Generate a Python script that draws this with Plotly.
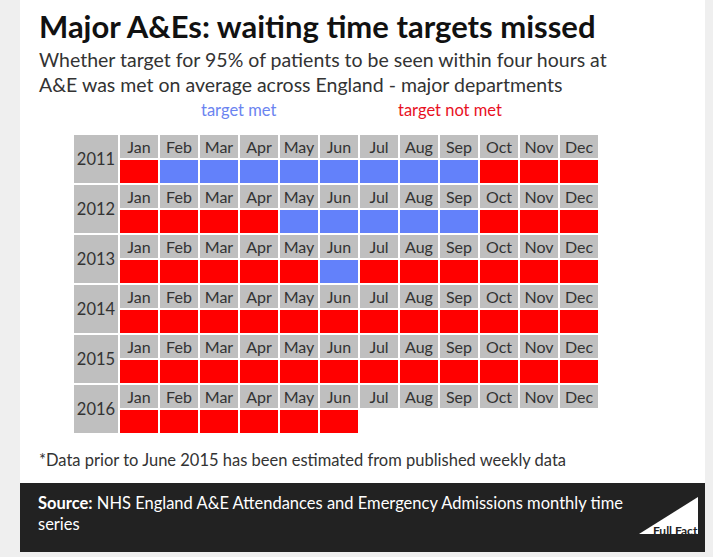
import math
import plotly.graph_objects as go

# Data: 1 = target met, 0 = target not met, None = no data yet
years = ['2011', '2012', '2013', '2014', '2015', '2016']
months = ['Jan', 'Feb', 'Mar', 'Apr', 'May', 'Jun', 'Jul', 'Aug', 'Sep', 'Oct', 'Nov', 'Dec']
met_2011 = [0, 1, 1, 1, 1, 1, 1, 1, 1, 0, 0, 0]
met_2012 = [0, 0, 0, 0, 1, 1, 1, 1, 1, 0, 0, 0]
met_2013 = [0, 0, 0, 0, 0, 1, 0, 0, 0, 0, 0, 0]
met_2014 = [0, 0, 0, 0, 0, 0, 0, 0, 0, 0, 0, 0]
met_2015 = [0, 0, 0, 0, 0, 0, 0, 0, 0, 0, 0, 0]
met_2016 = [0, 0, 0, 0, 0, 0, None, None, None, None, None, None]
status = [met_2011, met_2012, met_2013, met_2014, met_2015, met_2016]

W, H = 713, 557
GRAY = '#bfbfbf'
BLUE = '#6381fa'
RED = '#ff0000'
FONT = 'Lato'


def px(x):
    return x / W


def py(y):
    return 1 - y / H


# grid: one label row + one status row per year
# codes: 0 = grey label cell, 1 = met, 2 = not met
z, text = [], []
for row in status:
    z.append([0] * len(months))
    text.append(months)
    z.append([math.nan if v is None else (1 if v == 1 else 2) for v in row])
    text.append([''] * len(months))

cscale = [[0, GRAY], [0.5, BLUE], [1, RED]]

fig = go.Figure()
fig.add_trace(go.Heatmap(
    z=z, x=list(range(len(months))), y=list(range(len(z))),
    text=text, texttemplate='%{text}',
    textfont=dict(family=FONT, size=16, color='#333333'),
    colorscale=cscale, zmin=0, zmax=2, showscale=False,
    xgap=2, ygap=2, hoverinfo='skip'))

# year column spans both rows of each year
year_edges = [i * 2 - 0.5 for i in range(len(years) + 1)]
fig.add_trace(go.Heatmap(
    z=[[0] for _ in years], x=[-1.65, -0.5], y=year_edges,
    text=[[y] for y in years], texttemplate='%{text}',
    textfont=dict(family=FONT, size=16.5, color='#333333'),
    colorscale=cscale, zmin=0, zmax=2, showscale=False,
    xgap=2, ygap=2, hoverinfo='skip'))

shapes = [
    dict(type='rect', xref='paper', yref='paper', x0=px(20), x1=px(705), y0=py(0), y1=py(483),
         fillcolor='white', line_width=0, layer='below'),
    dict(type='rect', xref='paper', yref='paper', x0=px(20), x1=px(705), y0=py(483), y1=py(552),
         fillcolor='#222222', line_width=0, layer='below'),
    dict(type='path', xref='paper', yref='paper',
         path=f'M {px(698)} {py(497)} L {px(698)} {py(534)} L {px(639)} {py(534)} Z',
         fillcolor='white', line_width=0),
]

ann = [
    dict(x=px(37), y=py(26), text='<b>Major A&Es: waiting time targets missed</b>',
         font=dict(family=FONT, size=31, color='#111111'), xanchor='left', yanchor='middle'),
    dict(x=px(37), y=py(46), align='left',
         text='Whether target for 95% of patients to be seen within four hours at<br>'
              'A&E was met on average across England - major departments',
         font=dict(family=FONT, size=19.5, color='#333333'), xanchor='left', yanchor='top'),
    dict(x=px(238), y=py(110), text='target met',
         font=dict(family=FONT, size=16.5, color='#6b84f0'), xanchor='center', yanchor='middle'),
    dict(x=px(450), y=py(110), text='target not met',
         font=dict(family=FONT, size=16.5, color='#e8111f'), xanchor='center', yanchor='middle'),
    dict(x=px(37), y=py(460), text='*Data prior to June 2015 has been estimated from published weekly data',
         font=dict(family=FONT, size=16.5, color='#333333'), xanchor='left', yanchor='middle'),
    dict(x=px(36), y=py(491), align='left',
         text='<b>Source:</b> NHS England A&E Attendances and Emergency Admissions monthly time<br>series',
         font=dict(family=FONT, size=16.5, color='white'), xanchor='left', yanchor='top'),
    dict(x=px(700), y=py(530), text='<b>Full Fact</b>',
         font=dict(family=FONT, size=12, color='#222222'), xanchor='right', yanchor='middle'),
]
for a in ann:
    a.update(xref='paper', yref='paper', showarrow=False)

fig.update_layout(
    width=W, height=H, margin=dict(l=0, r=0, t=0, b=0),
    paper_bgcolor='#efefef', plot_bgcolor='rgba(0,0,0,0)',
    xaxis=dict(domain=[px(73), px(599)], range=[-1.65, 11.5], visible=False, fixedrange=True),
    yaxis=dict(domain=[py(434), py(134)], range=[11.5, -0.5], visible=False, fixedrange=True),
    shapes=shapes, annotations=ann, showlegend=False,
)

fig.write_html('out.html', config={'displayModeBar': False},
               post_script="document.body.style.margin='0';document.body.style.overflow='hidden';")
